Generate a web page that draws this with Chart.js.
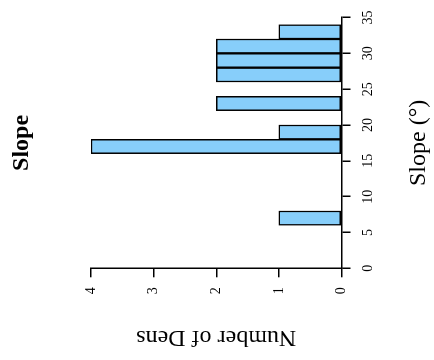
<!DOCTYPE html>
<html>
<head>
<meta charset="utf-8">
<script src="https://cdn.jsdelivr.net/npm/chart.js@4/dist/chart.umd.min.js"></script>
<style>
  html, body { margin: 0; padding: 0; background: #fff; overflow: hidden; }
  body { width: 434px; height: 360px; position: relative; }
  /* The histogram is laid out upright (360 x 434) and turned a quarter turn
     counter-clockwise so the slope axis runs up the right-hand side. */
  #chart {
    position: absolute; left: 0; top: 0;
    transform-origin: 0 0;
    transform: translate(0px, 360px) rotate(-90deg);
  }
</style>
</head>
<body>
<canvas id="chart" width="360" height="434"></canvas>
<script>
// Histogram of den slopes, 2-degree bins
const binStarts = [0, 2, 4, 6, 8, 10, 12, 14, 16, 18, 20, 22, 24, 26, 28, 30, 32];
const binCounts = [0, 0, 0, 1, 0, 0, 0, 0, 4, 1, 0, 2, 0, 2, 2, 2, 1];
const binWidth = 2;
const slopeTicks = [0, 5, 10, 15, 20, 25, 30, 35];
const countTicks = [0, 1, 2, 3, 4];

const serif = "'Liberation Serif', 'Times New Roman', serif";

const points = binStarts.map((start, i) => ({
  x: start + binWidth / 2,
  y: binCounts[i] === 0 ? null : binCounts[i]
}));

const axisGrid = {
  display: true,
  drawOnChartArea: false,
  drawTicks: true,
  tickLength: 9,
  color: '#000',
  lineWidth: 1.5,
  offset: false
};
const axisBorder = { display: true, color: '#000', width: 1.5 };

new Chart(document.getElementById('chart'), {
  type: 'bar',
  data: {
    datasets: [{
      data: points,
      backgroundColor: '#87CEFA',
      borderColor: '#000',
      borderWidth: 1.5,
      borderSkipped: false,
      barPercentage: 1,
      categoryPercentage: 1
    }]
  },
  options: {
    responsive: false,
    animation: false,
    devicePixelRatio: 1,
    layout: { padding: { left: 0, right: 17.5, top: 0, bottom: 0 } },
    plugins: {
      legend: { display: false },
      tooltip: { enabled: false },
      title: {
        display: true,
        text: 'Slope',
        fullSize: false,
        color: '#000',
        font: { family: serif, size: 24, weight: 'bold', lineHeight: 1.2 },
        padding: { top: 7.6, bottom: 54.6 }
      }
    },
    scales: {
      x: {
        type: 'linear',
        position: 'bottom',
        offset: false,
        min: 0,
        max: 35,
        afterBuildTicks: s => { s.ticks = slopeTicks.map(v => ({ value: v })); },
        afterFit: s => { s.height = 92.5; },
        grid: axisGrid,
        border: axisBorder,
        ticks: {
          color: '#000',
          padding: 9.6,
          maxRotation: 0,
          font: { family: serif, size: 14, lineHeight: 1.2 }
        },
        title: {
          display: true,
          text: 'Slope (°)',
          color: '#000',
          font: { family: serif, size: 24, lineHeight: 1.2 },
          padding: { top: 4, bottom: 1.1 }
        }
      },
      y: {
        type: 'linear',
        position: 'left',
        min: 0,
        max: 4,
        afterBuildTicks: s => { s.ticks = countTicks.map(v => ({ value: v })); },
        afterFit: s => { s.width = 91.7; },
        grid: axisGrid,
        border: axisBorder,
        ticks: {
          color: '#000',
          padding: 10,
          font: { family: serif, size: 14, lineHeight: 1.2 }
        },
        title: {
          display: true,
          text: 'Number of Dens',
          color: '#000',
          font: { family: serif, size: 24, lineHeight: 1.2 },
          padding: { top: 8.6, bottom: 4 }
        }
      }
    }
  }
});
</script>
</body>
</html>
